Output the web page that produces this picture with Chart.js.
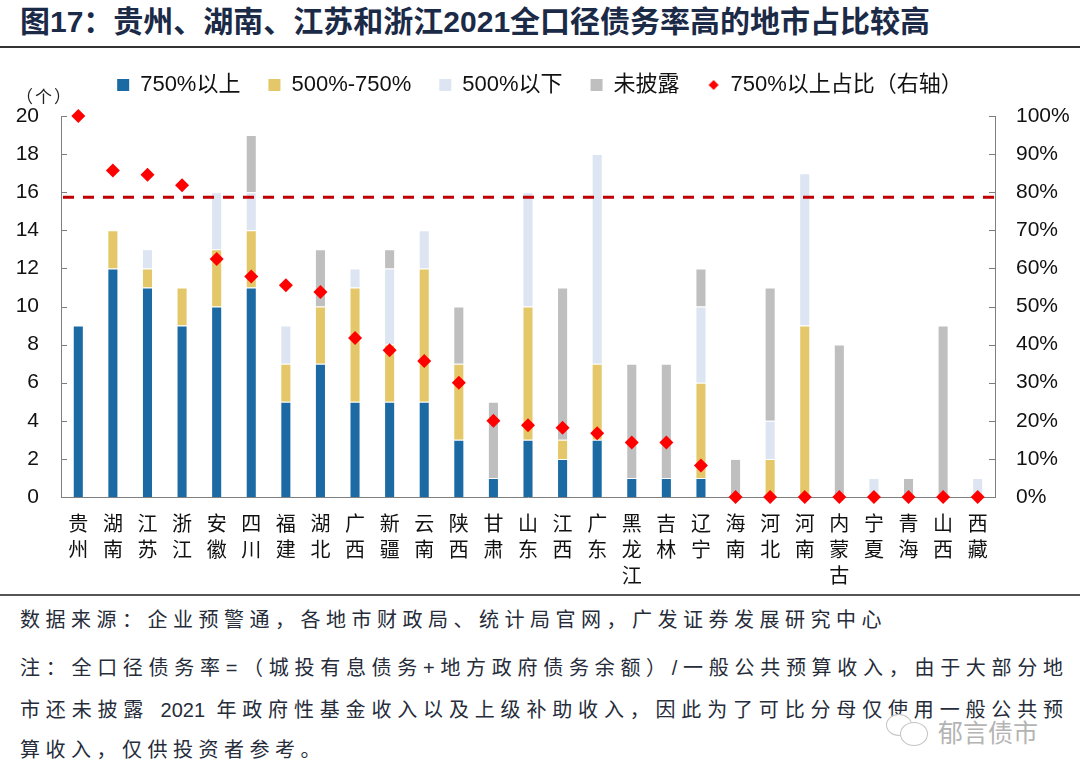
<!DOCTYPE html>
<html lang="zh-CN">
<head>
<meta charset="utf-8">
<script src="https://cdn.jsdelivr.net/npm/chart.js@4.4.1/dist/chart.umd.min.js"></script>
<style>
  html, body { margin: 0; padding: 0; background: #fff; }
  body { width: 1080px; height: 779px; position: relative; overflow: hidden;
         font-family: "Liberation Sans", "Noto Sans CJK SC", sans-serif; }
  .title { position: absolute; left: 20px; top: 6px; font-size: 30px; font-weight: bold;
           color: #1b2a47; line-height: 32px; white-space: nowrap; }
  .rule { position: absolute; left: 0; width: 1080px; background: #333; }
  .unit { position: absolute; left: 16px; top: 83px; font-size: 17px; letter-spacing: 2px; color: #222; }
  #wrap { position: absolute; left: 0; top: 37px; width: 1080px; height: 563px; }
  .note { position: absolute; left: 20px; font-size: 20px; letter-spacing: 5.5px; color: #262c3a;
          line-height: 26px; white-space: nowrap; }
  .just { width: 1043px; text-align: justify; text-align-last: justify; letter-spacing: 0; }
  .mark { position: absolute; left: 938px; top: 713px; font-size: 25px; color: #b4b4b4; }
  .bub { position: absolute; border: 1.5px solid #c4c4c4; border-radius: 50%; background: #fff; }
</style>
</head>
<body>
<div class="title">图17：贵州、湖南、江苏和浙江2021全口径债务率高的地市占比较高</div>
<div class="rule" style="top:46px;height:2px;"></div>
<div id="wrap"><canvas id="chart"></canvas></div>
<div class="unit">（个）</div>
<div class="rule" style="top:594px;height:2px;background:#555;"></div>
<div class="note" style="top:607px;">数据来源：企业预警通，各地市财政局、统计局官网，广发证券发展研究中心</div>
<div class="note just" style="top:655px;">注：全口径债务率=（城投有息债务+地方政府债务余额）/一般公共预算收入，由于大部分地</div>
<div class="note just" style="top:697px;">市还未披露 2021 年政府性基金收入以及上级补助收入，因此为了可比分母仅使用一般公共预</div>
<div class="note" style="top:737px;">算收入，仅供投资者参考。</div>
<div class="bub" style="left:886px;top:714px;width:24px;height:20px;"></div>
<div class="bub" style="left:900px;top:722px;width:26px;height:22px;"></div>
<div class="mark">郁言债市</div>

<script>
// 地市所属省份
const PROVINCES = ['贵州', '湖南', '江苏', '浙江', '安徽', '四川', '福建', '湖北', '广西',
    '新疆', '云南', '陕西', '甘肃', '山东', '江西', '广东', '黑龙江', '吉林', '辽宁',
    '海南', '河北', '河南', '内蒙古', '宁夏', '青海', '山西', '西藏'];

// 各档地市数量（个）
const ABOVE_750   = [9, 12, 11, 9, 10, 11, 5, 7, 5, 5, 5, 3, 1, 3, 2, 3, 1, 1, 1, 0, 0, 0, 0, 0, 0, 0, 0];
const MID_500_750 = [0, 2, 1, 2, 3, 3, 2, 3, 6, 3, 7, 4, 0, 7, 1, 4, 0, 0, 5, 0, 2, 9, 0, 0, 0, 0, 0];
const BELOW_500   = [0, 0, 1, 0, 3, 2, 2, 0, 1, 4, 2, 0, 0, 6, 0, 11, 0, 0, 4, 0, 2, 8, 0, 1, 0, 0, 1];
const UNDISCLOSED = [0, 0, 0, 0, 0, 3, 0, 3, 0, 1, 0, 3, 4, 0, 8, 0, 6, 6, 2, 2, 7, 0, 8, 0, 1, 9, 0];

// 750%以上占比（右轴）
const SHARE_750 = [1.0, 0.857, 0.846, 0.818, 0.625, 0.579, 0.556, 0.538, 0.417, 0.385, 0.357,
    0.30, 0.20, 0.188, 0.182, 0.167, 0.143, 0.143, 0.083, 0, 0, 0, 0, 0, 0, 0, 0];

// 红色虚线（右轴）
const THRESHOLD = 0.787;

const LEFT_TICKS_MAX = 20;
const RIGHT_TICKS_MAX = 1;

const FONT_FAMILY = '"Liberation Sans", "Noto Sans CJK SC", sans-serif';
const AXIS_COLOR = '#7f7f7f';

// 图例里的小菱形
const legendDiamond = (() => {
    const c = document.createElement('canvas');
    c.width = 12; c.height = 12;
    const g = c.getContext('2d');
    g.fillStyle = '#ff0000';
    g.beginPath();
    g.moveTo(6, 1); g.lineTo(11, 6); g.lineTo(6, 11); g.lineTo(1, 6);
    g.closePath();
    g.fill();
    return c;
})();

// 图例整体上移一点，和绘图区拉开距离
const legendLift = {
    id: 'legendLift',
    afterLayout(chart) {
        if (!chart.legend) return;
        chart.legend.top -= 10;
        chart.legend.bottom -= 10;
    }
};

// 刻度线画在轴内侧
const innerTicks = {
    id: 'innerTicks',
    beforeDatasetsDraw(chart) {
        const ctx = chart.ctx;
        ctx.save();
        ctx.strokeStyle = AXIS_COLOR;
        ctx.lineWidth = 1;
        [['y', 1], ['y1', -1]].forEach(([id, dir]) => {
            const scale = chart.scales[id];
            const x0 = id === 'y' ? scale.right : scale.left;
            scale.ticks.forEach((t, i) => {
                const y = Math.round(scale.getPixelForTick(i)) + 0.5;
                ctx.beginPath();
                ctx.moveTo(x0, y);
                ctx.lineTo(x0 + dir * 6, y);
                ctx.stroke();
            });
        });
        ctx.restore();
    }
};

const thresholdLine = {
    id: 'thresholdLine',
    afterDatasetsDraw(chart) {
        const { ctx, chartArea, scales } = chart;
        const y = scales.y1.getPixelForValue(THRESHOLD);
        ctx.save();
        ctx.strokeStyle = '#c00000';
        ctx.lineWidth = 3;
        ctx.setLineDash([11, 9]);
        ctx.beginPath();
        ctx.moveTo(chartArea.left + 2, y);
        ctx.lineTo(chartArea.right, y);
        ctx.stroke();
        ctx.restore();
    }
};

function barSet(label, data, color) {
    return {
        type: 'bar',
        label: label,
        data: data,
        backgroundColor: color,
        borderColor: 'rgba(255,255,255,0.55)',
        borderWidth: 1,
        yAxisID: 'y',
        stack: 'count',
        order: 2,
        categoryPercentage: 1,
        barPercentage: 0.32,
    };
}

new Chart(document.getElementById('chart'), {
    data: {
        labels: PROVINCES.map(p => p.split('')),
        datasets: [
            barSet('750%以上', ABOVE_750, '#1c6aa4'),
            barSet('500%-750%', MID_500_750, '#e4c768'),
            barSet('500%以下', BELOW_500, '#dce5f1'),
            barSet('未披露', UNDISCLOSED, '#bfbfbf'),
            {
                type: 'line',
                label: '750%以上占比（右轴）',
                data: SHARE_750,
                yAxisID: 'y1',
                showLine: false,
                pointStyle: 'rectRot',
                pointRadius: 7,
                pointBackgroundColor: '#ff0000',
                pointBorderColor: '#ff0000',
                pointBorderWidth: 0,
                order: 0,
                clip: false,
            }
        ]
    },
    options: {
        responsive: true,
        maintainAspectRatio: false,
        animation: false,
        layout: { padding: 0 },
        plugins: {
            tooltip: { enabled: false },
            legend: {
                position: 'top',
                align: 'center',
                labels: {
                    usePointStyle: true,
                    boxWidth: 12,
                    boxHeight: 12,
                    padding: 28,
                    color: '#111',
                    font: { family: FONT_FAMILY, size: 22 },
                    generateLabels: (chart) => {
                        const items = Chart.defaults.plugins.legend.labels.generateLabels(chart);
                        items.sort((a, b) => a.datasetIndex - b.datasetIndex);
                        items.forEach(it => {
                            it.pointStyle = it.datasetIndex === 4 ? legendDiamond : 'rect';
                            it.lineWidth = 0;
                        });
                        return items;
                    }
                }
            }
        },
        scales: {
            x: {
                stacked: true,
                grid: { display: false },
                border: { display: true, color: AXIS_COLOR, width: 1 },
                ticks: {
                    color: '#111',
                    font: { family: FONT_FAMILY, size: 20, lineHeight: 1.3 },
                    padding: 7,
                    maxRotation: 0,
                    autoSkip: false,
                },
                afterFit: (s) => { s.height = 103; }
            },
            y: {
                position: 'left',
                stacked: true,
                min: 0,
                max: LEFT_TICKS_MAX,
                ticks: {
                    stepSize: 2,
                    color: '#111',
                    padding: 14,
                    font: { family: FONT_FAMILY, size: 21 },
                },
                grid: { display: false },
                border: { display: true, color: AXIS_COLOR },
                // 固定左轴宽度，并把绘图区顶部往下压
                afterFit: (s) => { s.width = 61; s.paddingTop = 79; }
            },
            y1: {
                position: 'right',
                min: 0,
                max: RIGHT_TICKS_MAX,
                ticks: {
                    stepSize: 0.1,
                    color: '#111',
                    padding: 13,
                    font: { family: FONT_FAMILY, size: 21 },
                    callback: (v) => `${Math.round(v * 100)}%`
                },
                grid: { display: false },
                border: { display: true, color: AXIS_COLOR },
                afterFit: (s) => { s.width = 85; }
            }
        }
    },
    plugins: [legendLift, innerTicks, thresholdLine]
});
</script>
</body>
</html>
